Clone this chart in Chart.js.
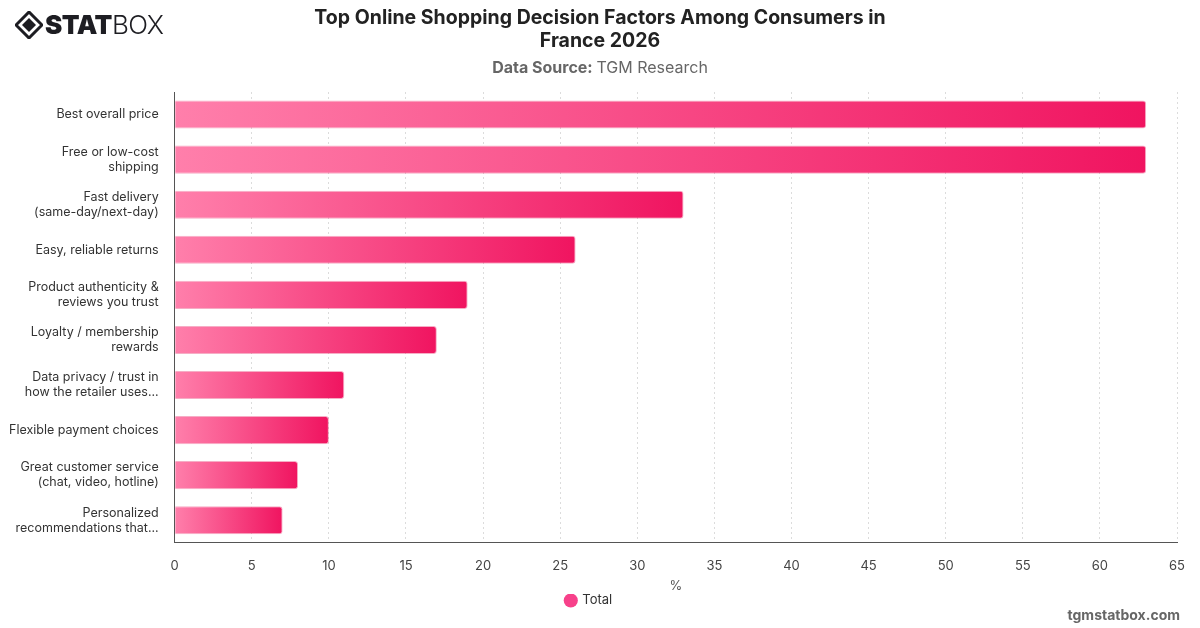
<!DOCTYPE html>
<html>
<head>
<meta charset="utf-8">
<script src="https://cdn.jsdelivr.net/npm/chart.js@4"></script>
<style>
  html, body { margin: 0; padding: 0; background: #fff; }
  #wrap { position: relative; width: 1200px; height: 628px; }
  #logo { position: absolute; left: 15px; top: 9px; display: flex; align-items: center; font-family: Inter, "Noto Sans", sans-serif; color: #1d1d22; }
  #logo .stat { font-weight: 900; font-size: 26px; letter-spacing: -0.5px; }
  #logo .box { font-weight: 300; font-size: 26px; letter-spacing: -0.5px; }
  #site { position: absolute; right: 20px; bottom: 5px; font-family: Inter, sans-serif; font-weight: 700; font-size: 14px; color: #666; }
</style>
</head>
<body>
<div id="wrap">
  <canvas id="chart" width="1200" height="628"></canvas>
  <div id="logo">
    <svg width="28" height="28" viewBox="0 0 28 28" style="margin-right:2px">
      <path d="M14 1 L27 14 L14 27 L1 14 Z" fill="none" stroke="#1d1d22" stroke-width="3"/>
      <path d="M14 7 L21 14 L14 21 L7 14 Z" fill="#1d1d22"/>
    </svg>
    <span class="stat">STAT</span><span class="box">BOX</span>
  </div>
  <div id="site">tgmstatbox.com</div>
</div>
<script>
document.addEventListener("DOMContentLoaded", function() {
    var categories = [
        'Best overall price',
        ['Free or low-cost', 'shipping'],
        ['Fast delivery', '(same-day/next-day)'],
        'Easy, reliable returns',
        ['Product authenticity &', 'reviews you trust'],
        ['Loyalty / membership', 'rewards'],
        ['Data privacy / trust in', 'how the retailer uses...'],
        'Flexible payment choices',
        ['Great customer service', '(chat, video, hotline)'],
        ['Personalized', 'recommendations that...']
    ];
    var totals = [63, 63, 33, 26, 19, 17, 11, 10, 8, 7];
    var xTicks = [0, 5, 10, 15, 20, 25, 30, 35, 40, 45, 50, 55, 60, 65];

    var ctx = document.getElementById("chart").getContext('2d');

    // gradient running along each bar, light at the base, deep at the tip
    function barGradient(context) {
        var chart = context.chart;
        if (!chart.chartArea || context.type !== 'data') return '#f7418a';
        var xs = chart.scales.x;
        var x0 = xs.getPixelForValue(0);
        var x1 = xs.getPixelForValue(context.parsed.x);
        if (x1 - x0 < 2) x1 = x0 + 2;
        var g = chart.ctx.createLinearGradient(x0, 0, x1, 0);
        g.addColorStop(0, '#ff7fab');
        g.addColorStop(1, '#f01460');
        return g;
    }

    var header = {
        id: 'header',
        afterDraw: function(chart) {
            var c = chart.ctx;
            c.save();
            c.textAlign = 'center';
            c.textBaseline = 'middle';
            c.fillStyle = '#222';
            c.font = 'bold 19.5px Inter, sans-serif';
            c.fillText('Top Online Shopping Decision Factors Among Consumers in', 600, 18);
            c.fillText('France 2026', 600, 41);
            var a = 'Data Source: ';
            var b = 'TGM Research';
            c.font = '16px Inter, sans-serif';
            var wb = c.measureText(b).width;
            c.font = 'bold 16px Inter, sans-serif';
            var wa = c.measureText(a).width;
            var start = 600 - (wa + wb) / 2;
            c.textAlign = 'left';
            c.fillStyle = '#666';
            c.fillText(a, start, 68);
            c.font = '16px Inter, sans-serif';
            c.fillText(b, start + wa, 68);
            c.restore();
        }
    };

    new Chart(ctx, {
        type: 'bar',
        data: {
            labels: categories,
            datasets: [{
                label: 'Total',
                data: totals,
                backgroundColor: barGradient,
                borderColor: 'rgba(230, 20, 90, 0.35)',
                borderWidth: 1,
                borderRadius: 3,
                borderSkipped: 'start',
                barPercentage: 0.78,
                categoryPercentage: 0.8
            }]
        },
        options: {
            indexAxis: 'y',
            responsive: false,
            animation: false,
            layout: { padding: { top: 92, left: 1, right: 23, bottom: 11 } },
            scales: {
                x: {
                    min: 0,
                    max: 65,
                    afterBuildTicks: function(axis) {
                        axis.ticks = xTicks.map(function(v) { return { value: v }; });
                    },
                    grid: {
                        color: '#dcdcdc',
                        drawTicks: false
                    },
                    border: { color: '#555', width: 1, dash: [2, 3] },
                    ticks: { color: '#444', font: { family: 'Inter', size: 13 }, padding: 15 },
                    title: { display: true, text: '%', color: '#555', font: { family: 'Inter', size: 13 }, padding: { top: -10, bottom: 0 } }
                },
                y: {
                    grid: { display: false },
                    border: { color: '#555', width: 1 },
                    ticks: { color: '#333', font: { family: 'Inter', size: 12.5 }, padding: 8 }
                }
            },
            plugins: {
                legend: {
                    position: 'bottom',
                    labels: {
                        usePointStyle: true,
                        pointStyle: 'circle',
                        boxWidth: 10,
                        boxHeight: 10,
                        color: '#333',
                        font: { family: 'Inter', size: 13 },
                        padding: 0,
                        generateLabels: function(chart) {
                            return [{ text: 'Total', fillStyle: '#f7418a', strokeStyle: '#f7418a', lineWidth: 0, pointStyle: 'circle', fontColor: '#333', datasetIndex: 0 }];
                        }
                    }
                },
                title: { display: false },
                tooltip: { enabled: false }
            }
        },
        plugins: [header]
    });
});
</script>
</body>
</html>
